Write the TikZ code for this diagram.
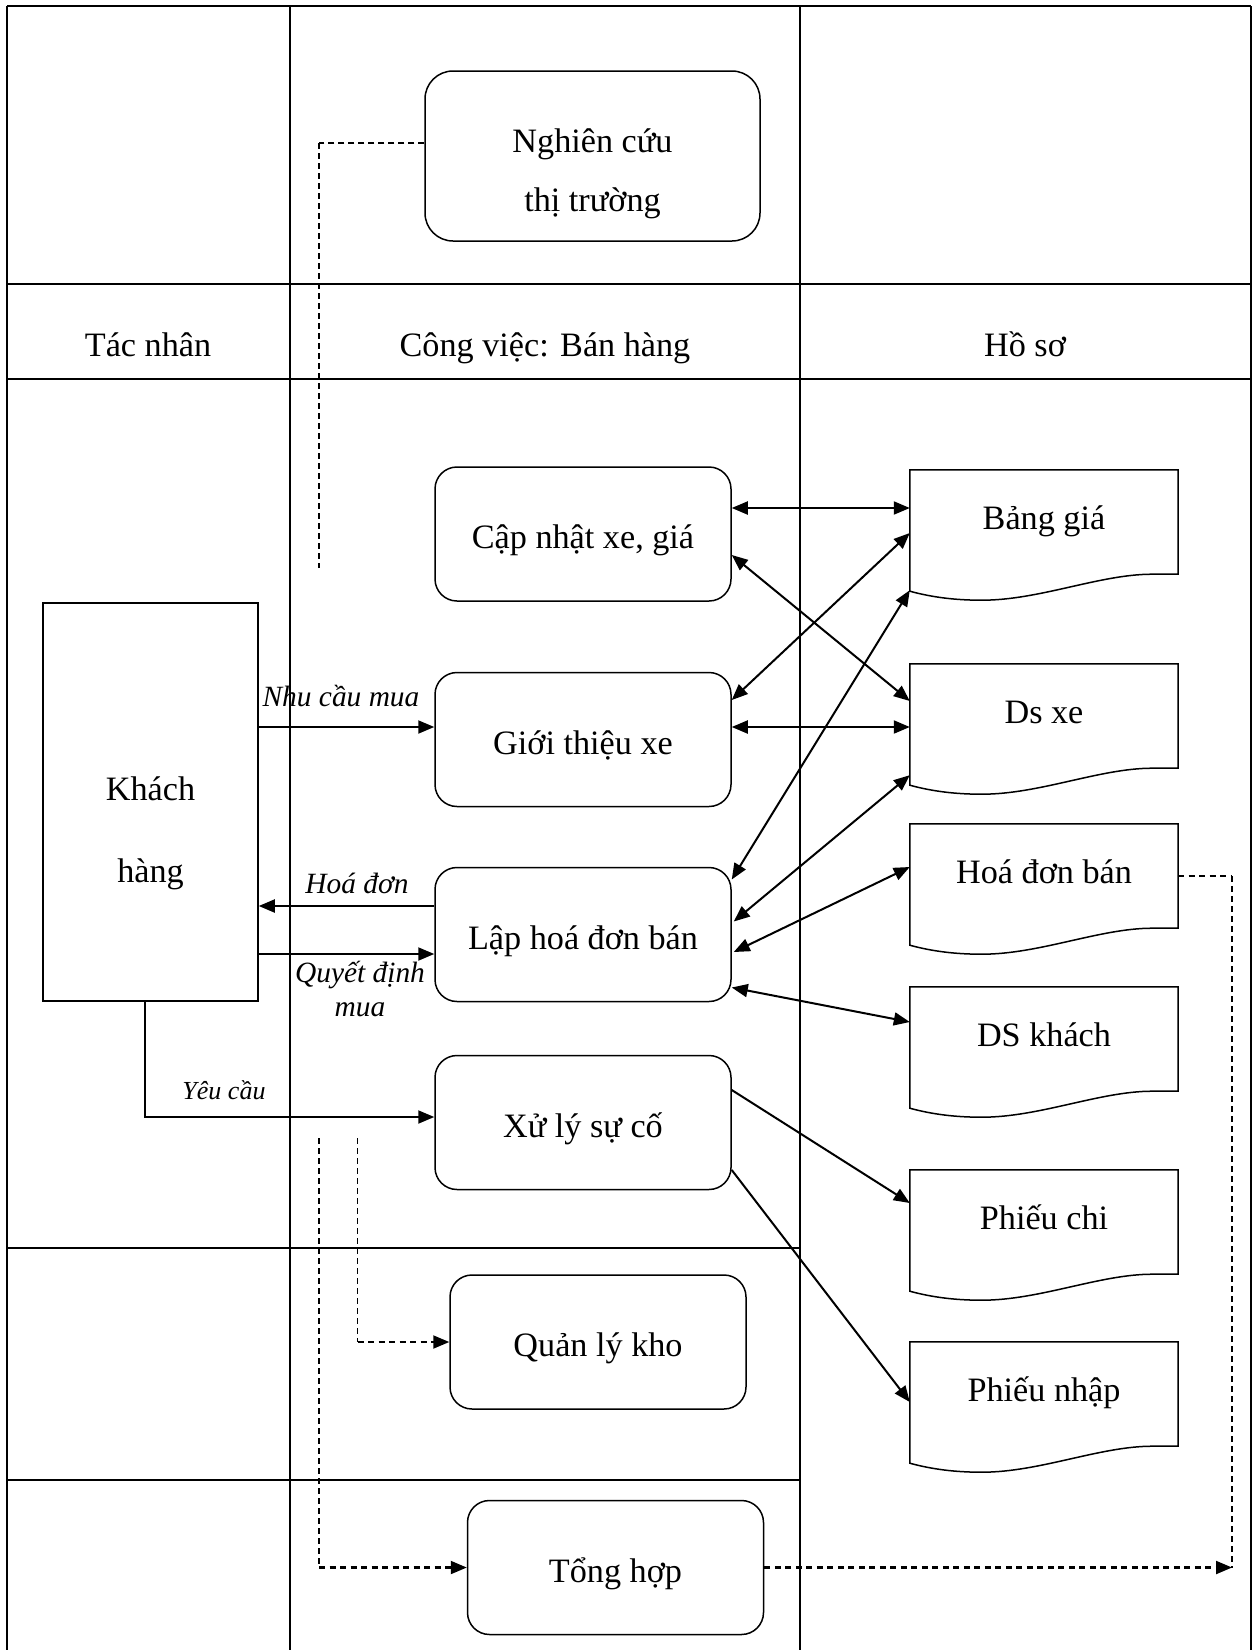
\documentclass[tikz,border=0pt]{standalone}
\usepackage{fontspec}
\setmainfont{Liberation Serif}
\usetikzlibrary{arrows.meta,calc}

% document symbol with a wavy lower edge, drawn around a named docbox node
\newcommand\docshape[1]{%
  \draw[docline] ($(#1.south west)+(0,17)$) -- (#1.north west) -- (#1.north east) -- (#1.south east)
    -- ($(#1.south east)+(-26,0)$)
    .. controls ($(#1.south west)+(190,0)$) and ($(#1.south west)+(130,26)$) .. ($(#1.south west)+(72,26)$)
    .. controls ($(#1.south west)+(45,26)$) and ($(#1.south west)+(22,23)$) .. ($(#1.south west)+(0,17)$) -- cycle;}

\tikzset{
  x=1pt, y=-1pt,
  lane/.style={line width=1.9pt},
  task/.style={draw, rectangle, rounded corners=22pt, line width=1.5pt,
    minimum width=296pt, minimum height=134pt, text height=29pt, text depth=0pt,
    inner sep=0pt, font=\fontsize{34.2}{40}\selectfont},
  actor/.style={draw, rectangle, line width=1.5pt, minimum width=215pt,
    minimum height=398pt, inner sep=0pt},
  docbox/.style={rectangle, minimum width=268pt, minimum height=104pt,
    text height=15pt, text depth=0pt, inner sep=0pt, font=\fontsize{34.2}{40}\selectfont},
  docline/.style={line width=1.5pt},
  txt/.style={anchor=base, inner sep=0pt, font=\fontsize{34.2}{40}\selectfont},
  lbl/.style={anchor=base, inner sep=0pt, font=\fontsize{29.4}{34}\selectfont\itshape},
  lblsmall/.style={anchor=base, inner sep=0pt, font=\fontsize{26}{30}\selectfont\itshape},
  tip/.tip={Triangle[length=16pt,width=13pt]},
  flow/.style={line width=2pt, -tip},
  link/.style={line width=2pt, tip-tip},
  dashv/.style={line width=1.5pt, dash pattern=on 6pt off 4pt},
  dashh/.style={line width=2.1pt, dash pattern=on 6pt off 4.5pt},
}

\begin{document}
\begin{tikzpicture}
\useasboundingbox (0,0) rectangle (1259,1650);

% swimlane grid
\draw[lane] (7,6) -- (1251,6);
\draw[lane] (7,6) -- (7,1650);
\draw[lane] (1251,6) -- (1251,1650);
\draw[lane] (290,6) -- (290,1650);
\draw[lane] (800,6) -- (800,1650);
\draw[lane] (7,284) -- (1251,284);
\draw[lane] (7,379) -- (1251,379);
\draw[lane] (7,1248) -- (800,1248);
\draw[lane] (7,1480) -- (800,1480);

% headers
\node[txt] (h1) at (148,356) {Tác nhân};
\node[txt] (h2) at (545,356) {Công việc: Bán hàng};
\node[txt] (h3) at (1025,356) {Hồ sơ};

% market research
\node[draw, rectangle, rounded corners=28pt, line width=1.5pt, minimum width=335pt,
      minimum height=170pt, inner sep=0pt] (nc) at (592.5,156) {};
\node[txt] (nct1) at (592.5,152) {Nghiên cứu};
\node[txt] (nct2) at (592.5,211) {thị trường};

% customer
\node[actor] (kh) at (150.5,802) {};
\node[txt] (kht1) at (150.5,800) {Khách};
\node[txt] (kht2) at (150.5,882) {hàng};

% tasks
\node[task] (cap) at (583,534) {Cập nhật xe, giá};
\node[task] (gt) at (583,739.5) {Giới thiệu xe};
\node[task] (lhd) at (583,934.5) {Lập hoá đơn bán};
\node[task] (xl) at (583,1122.5) {Xử lý sự cố};
\node[task] (qlk) at (598,1342) {Quản lý kho};
\node[task] (th) at (615.5,1567.5) {Tổng hợp};

% documents
\node[docbox] (bg) at (1044,522) {Bảng giá};
\node[docbox] (ds) at (1044,716) {Ds xe};
\node[docbox] (hd) at (1044,876) {Hoá đơn bán};
\node[docbox] (dk) at (1044,1039) {DS khách};
\node[docbox] (pc) at (1044,1222) {Phiếu chi};
\node[docbox] (pn) at (1044,1394) {Phiếu nhập};
\docshape{bg}
\docshape{ds}
\docshape{hd}
\docshape{dk}
\docshape{pc}
\docshape{pn}

% task <-> document links
\draw[link] ($(cap.east)+(0,-26)$) -- ($(bg.west)+(0,-14)$);
\draw[link] ($(gt.east)+(0,-12.5)$) -- ($(ds.west)+(0,11)$);
\draw[link] ($(cap.east)+(0,21)$) -- ($(ds.west)+(0,-15)$);
\draw[link] ($(gt.east)+(0,-39.5)$) -- ($(bg.west)+(0,11)$);
\draw[link] ($(lhd.east)+(0,-55)$) -- ($(bg.south west)+(0,16)$);
\draw[link] ($(lhd.east)+(2,-13)$) -- ($(ds.south west)+(0,7)$);
\draw[link] ($(lhd.east)+(2,17.5)$) -- ($(hd.west)+(0,-9)$);
\draw[link] ($(lhd.east)+(0,53)$) -- ($(dk.west)+(0,-17)$);
\draw[flow] ($(xl.east)+(0,-32.5)$) -- ($(pc.west)+(0,-19)$);
\draw[flow] ($(xl.east)+(0,47.5)$) -- ($(pn.west)+(0,8)$);

% customer flows
\draw[flow] ($(kh.east)+(0,-75)$) -- ($(gt.west)+(0,-12.5)$);
\node[lbl] (l1) at (341,706) {Nhu cầu mua};
\draw[flow] ($(lhd.west)+(0,-28.5)$) -- ($(kh.east)+(0,104)$);
\node[lbl] (l2) at (357,893) {Hoá đơn};
\draw[flow] ($(kh.east)+(0,152)$) -- ($(lhd.west)+(0,19.5)$);
\node[lbl] (l3) at (360,982) {Quyết định};
\node[lbl] (l4) at (360,1016) {mua};
\draw[flow] ($(kh.south)+(-5.5,0)$) |- ($(xl.west)+(0,-5.5)$);
\node[lblsmall] (l5) at (224,1099) {Yêu cầu};

% dashed information flows
\coordinate (ncout) at ($(nc.west)+(0,-13)$);
\coordinate (ncend) at (319,568);
\coordinate (s1) at (319,1138);
\coordinate (s2) at (357.5,1138);
\coordinate (hdend) at (1232,1567.5);

\draw[dashv] (ncout) -- (ncout -| ncend);
\draw[dashv] (ncout -| ncend) -- (ncend);

\draw[dashv] (s2) -- (s2 |- qlk.west);
\draw[dashh, -tip] (s2 |- qlk.west) -- (qlk.west);

\draw[dashv] (s1) -- (s1 |- th.west);
\draw[dashh, -tip] (s1 |- th.west) -- (th.west);

\draw[dashh] (hd.east) -- (hd.east -| hdend);
\draw[dashv] (hd.east -| hdend) -- (hdend);
\draw[dashh, -tip] (th.east) -- (hdend);
\end{tikzpicture}
\end{document}
